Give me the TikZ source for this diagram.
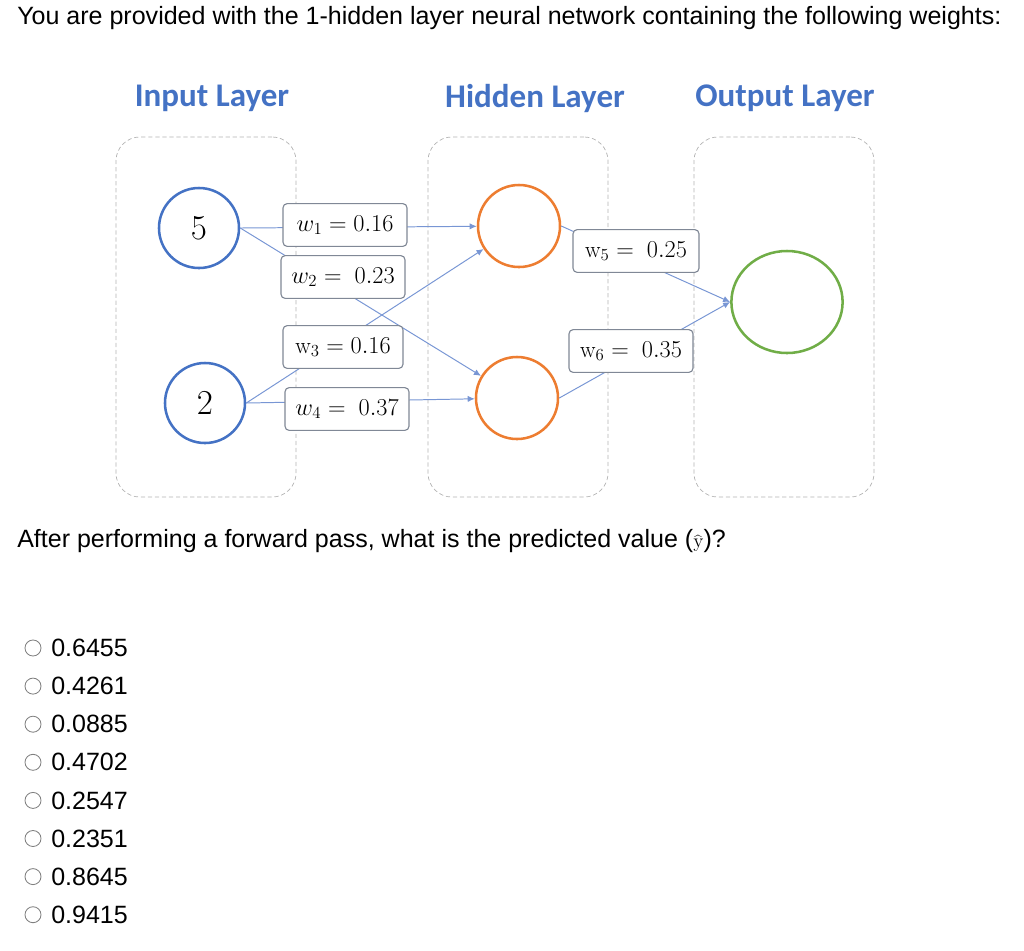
\documentclass[tikz,border=0pt]{standalone}
\usepackage{fontspec}
\setmainfont{Liberation Sans}
\setmathrm{Latin Modern Roman}
\newfontfamily\calibri{Carlito}
\usepackage{tikz}
\usetikzlibrary{shapes.geometric,arrows.meta,positioning}

\definecolor{layerblue}{RGB}{68,114,196}
\definecolor{hidorange}{RGB}{237,125,49}
\definecolor{outgreen}{RGB}{112,173,71}
\definecolor{wirecol}{RGB}{120,150,212}
\definecolor{boxedge}{RGB}{128,136,150}

\tikzset{
  layerbox/.style={draw=gray!60, densely dashed, line width=0.5pt, rounded corners=0.6cm, minimum width=4.5cm, minimum height=9cm},
  neuron/.style={circle, line width=1.8pt, minimum size=2cm, inner sep=0pt},
  weight/.style={draw=boxedge, line width=0.8pt, rounded corners=3pt, fill=white, minimum width=3.1cm, minimum height=1.07cm, inner sep=0pt, font=\fontsize{16.5}{18}\selectfont},
  wire/.style={draw=wirecol, line width=0.7pt},
  wirearrow/.style={wire, -{Latex[length=5pt,width=4.5pt]}},
  head/.style={font=\calibri\bfseries\fontsize{23.5}{28}\selectfont, text=layerblue},
  txt/.style={font=\fontsize{17.8}{20}\selectfont, anchor=west, inner sep=0pt},
  radio/.style={circle, draw=gray, line width=0.6pt, minimum size=0.4cm, inner sep=0pt}
}

\begin{document}
\begin{tikzpicture}[x=0.025cm, y=-0.025cm]
\useasboundingbox (0,0) rectangle (1024,950);

% Question text
\node[txt] (title) at (17,18) {You are provided with the 1-hidden layer neural network containing the following weights:};

% Layer frames and headers
\node[layerbox] (inbox) at (206,317) {};
\node[layerbox] (hidbox) at (518,317) {};
\node[layerbox] (outbox) at (784,317) {};
\node[head] (inhead) at (212,98) {Input Layer};
\node[head] (hidhead) at (535,98) {Hidden Layer};
\node[head] (outhead) at (785,98) {Output Layer};

% Neurons
\node[neuron, draw=layerblue, font=\fontsize{27}{30}\selectfont] (in1) at (199,228) {$5$};
\node[neuron, draw=layerblue, font=\fontsize{27}{30}\selectfont] (in2) at (205,403) {$2$};
\node[neuron, draw=hidorange, minimum size=2.05cm] (hid1) at (519,226) {};
\node[neuron, draw=hidorange, minimum size=2.05cm] (hid2) at (517,398) {};
\node[ellipse, draw=outgreen, line width=1.8pt, minimum width=2.78cm, minimum height=2.55cm] (out) at (787,302) {};

% Connections
\draw[wirearrow] (in1.east) -- (hid1);
\draw[wirearrow] (in1.east) -- (hid2);
\draw[wirearrow] (in2.east) -- (hid1);
\draw[wirearrow] (in2.east) -- (hid2);
\draw[wirearrow] (hid1.east) -- (out.west);
\draw[wirearrow] (hid2.east) -- (out.west);

% Weights
\node[weight] (w1) at (345,225) {$w_1 = 0.16$};
\node[weight] (w2) at (343,277) {$w_2 =\ 0.23$};
\node[weight, minimum width=3cm] (w3) at (343,347) {$\mathrm{w}_3 = 0.16$};
\node[weight] (w4) at (347,409) {$w_4 =\ 0.37$};
\node[weight, minimum width=3.15cm] (w5) at (636,251) {$\mathrm{w}_5 =\ 0.25$};
\node[weight] (w6) at (631,351) {$\mathrm{w}_6 =\ 0.35$};

\node[txt] (question) at (17,541) {After performing a forward pass, what is the predicted value ({\fontsize{14}{14}\selectfont$\widehat{\mathrm{y}}$})?};

% Answer options
\foreach \val [count=\i] in {0.6455,0.4261,0.0885,0.4702,0.2547,0.2351,0.8645,0.9415} {
  \pgfmathsetmacro\yy{648+38.1*(\i-1)}
  \node[radio] (r\i) at (33,\yy) {};
  \node[txt] (a\i) at (51,\yy) {\val};
}
\end{tikzpicture}
\end{document}
